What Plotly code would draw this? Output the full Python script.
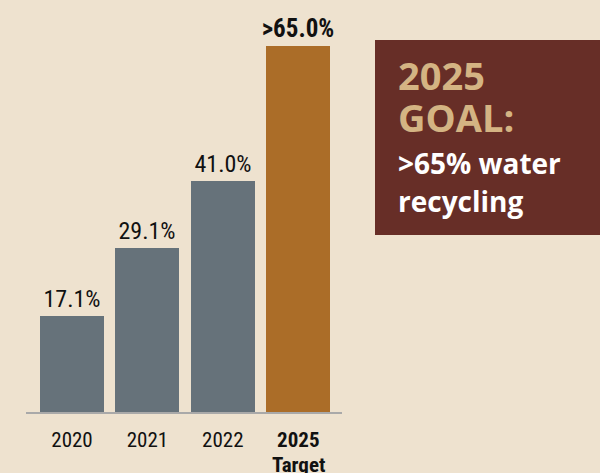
import plotly.graph_objects as go

# Water recycling rate by year, with the 2025 target
categories = ["2020", "2021", "2022", "2025 Target"]
tick_labels = ["2020", "2021", "2022", "<b>2025</b>"]
target_caption = "Target"
values = [17.1, 29.1, 41.0, 65.0]
value_labels = ["17.1%", "29.1%", "41.0%", "<b>>65.0%</b>"]
label_sizes = [24, 24, 24, 25]

# Goal call-out text
goal_heading = ["2025", "GOAL:"]
goal_body = [">65% water", "recycling"]

BG = "#EEE2CF"
GREY = "#66727A"
ORANGE = "#AB6D28"
BOX = "#672E27"
TAN = "#D4B483"
NARROW = "Roboto Condensed, Noto Sans Condensed, Liberation Sans Narrow, DejaVu Sans Condensed, sans-serif"
BOLD = "Open Sans, Liberation Sans, Arial, sans-serif"

bar_colors = [GREY, GREY, GREY, ORANGE]

fig = go.Figure(
    go.Bar(
        x=categories,
        y=values,
        width=0.85,
        marker=dict(color=bar_colors, line=dict(width=0)),
        text=value_labels,
        textposition="outside",
        constraintext="none",
        textfont=dict(family=NARROW, size=label_sizes, color="#111111"),
        cliponaxis=False,
        hoverinfo="skip",
    )
)

# plot area spans x 26..342 px and y 0..412 px
PL, PR, PB = 26, 342, 412


def px(x):
    return (x - PL) / (PR - PL)


def py(y):
    return (PB - y) / PB


annotations = []
for line, top in zip(goal_heading, [47, 89]):
    annotations.append(dict(
        xref="paper", yref="paper", x=px(396), y=py(top),
        xanchor="left", yanchor="top", align="left",
        text=f"<b>{line}</b>",
        font=dict(family=BOLD, size=38, color=TAN),
        showarrow=False,
    ))
for line, top in zip(goal_body, [142, 180]):
    annotations.append(dict(
        xref="paper", yref="paper", x=px(396), y=py(top),
        xanchor="left", yanchor="top", align="left",
        text=f"<b>{line}</b>",
        font=dict(family=BOLD, size=28, color="#FFFFFF"),
        showarrow=False,
    ))

# second line of the target tick label
annotations.append(dict(
    xref="x", yref="paper", x=categories[-1], y=py(451),
    xanchor="center", yanchor="top",
    text=f"<b>{target_caption}</b>",
    font=dict(family=NARROW, size=21, color="#111111"),
    showarrow=False,
))

fig.update_layout(
    width=600,
    height=473,
    margin=dict(l=PL, r=600 - PR, t=0, b=473 - PB, autoexpand=False),
    paper_bgcolor=BG,
    plot_bgcolor=BG,
    showlegend=False,
    bargap=0,
    xaxis=dict(
        range=[-0.61, 3.58],
        tickmode="array",
        tickvals=categories,
        ticktext=tick_labels,
        tickfont=dict(family=NARROW, size=21, color="#111111"),
        showline=True,
        linecolor="#A9A9A9",
        linewidth=2,
        ticks="",
        ticklabelstandoff=8,
        showgrid=False,
        zeroline=False,
        automargin=False,
        fixedrange=True,
    ),
    yaxis=dict(
        range=[0, 73.2],
        visible=False,
        showgrid=False,
        zeroline=False,
        automargin=False,
        fixedrange=True,
    ),
    shapes=[
        dict(
            type="rect",
            xref="paper", yref="paper",
            x0=px(375), x1=px(600),
            y0=py(235), y1=py(40),
            fillcolor=BOX,
            line=dict(width=0),
            layer="below",
        )
    ],
    annotations=annotations,
)

fig.write_html("out.html")
